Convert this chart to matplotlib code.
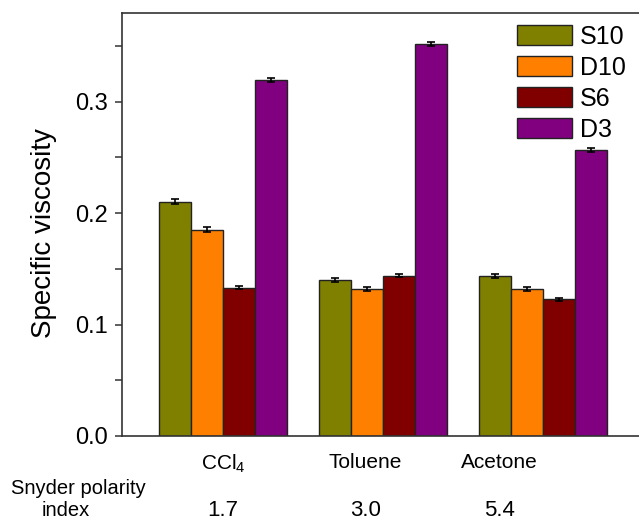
import matplotlib
matplotlib.use("Agg")
import matplotlib.pyplot as plt
import matplotlib.transforms as mtransforms
from matplotlib.ticker import MultipleLocator
import numpy as np

plt.rcParams['font.family'] = ['Liberation Sans', 'DejaVu Sans']
plt.rcParams['mathtext.fontset'] = 'custom'
plt.rcParams['mathtext.rm'] = 'Liberation Sans'
plt.rcParams['mathtext.it'] = 'Liberation Sans'

# 数据
solvents = [r'CCl$_\mathregular{4}$', 'Toluene', 'Acetone']
polarity = ['1.7', '3.0', '5.4']
series = ['S10', 'D10', 'S6', 'D3']
colors = ['#808000', '#FF8000', '#800000', '#800080']
s10 = [0.2103, 0.1400, 0.1434]
d10 = [0.1852, 0.1317, 0.1322]
s6 = [0.1331, 0.1440, 0.1227]
d3 = [0.3196, 0.3519, 0.2567]
s10_err = [0.0020, 0.0018, 0.0018]
d10_err = [0.0020, 0.0018, 0.0016]
s6_err = [0.0012, 0.0015, 0.0012]
d3_err = [0.0020, 0.0022, 0.0018]

values = [s10, d10, s6, d3]
errors = [s10_err, d10_err, s6_err, d3_err]

# 文字标签在原图中并不完全位于组中心
label_pos = [0.0, 0.89, 1.73]

fig = plt.figure(figsize=(6.39, 5.19), dpi=100)
ax = fig.add_axes([122 / 639, 83 / 519, (645 - 122) / 639, (436 - 13) / 519])

x = np.arange(len(solvents))
width = 0.2
for i, (name, vals, errs, c) in enumerate(zip(series, values, errors, colors)):
    pos = x + (i - 1.5) * width
    ax.bar(pos, vals, width, color=c, edgecolor='#222222', linewidth=1.0, label=name)
    ax.errorbar(pos, vals, yerr=errs, fmt='none', ecolor='black',
                elinewidth=1.2, capsize=3, capthick=1.2)

ax.set_xlim(-0.63125, 2.6375)
ax.set_ylim(0, 0.3797)
ax.yaxis.set_major_locator(MultipleLocator(0.1))
ax.yaxis.set_minor_locator(MultipleLocator(0.05))
ax.set_yticks([0.0, 0.1, 0.2, 0.3])
ax.set_yticklabels(['0.0', '0.1', '0.2', '0.3'])
ax.tick_params(axis='y', which='both', direction='out', length=5, width=1.1,
               labelsize=17, pad=5.5, color='#333333')
ax.set_xticks(label_pos)
ax.set_xticklabels(solvents, fontsize=15)
ax.tick_params(axis='x', length=0, pad=12)

ax.spines['right'].set_visible(False)
for s in ['left', 'bottom', 'top']:
    ax.spines[s].set_linewidth(1.2)
    ax.spines[s].set_color('#333333')

ax.set_ylabel('Specific viscosity', fontsize=20)
ax.yaxis.set_label_coords(57 / 639, 1 - 233 / 519, transform=fig.transFigure)

# 图例
ax.legend(loc='upper left', bbox_to_anchor=(517 / 639, 1 - 25 / 519),
          bbox_transform=fig.transFigure, frameon=False, fontsize=18,
          handlelength=2.2, handleheight=0.85, handletextpad=0.3,
          labelspacing=0.28, borderpad=0, borderaxespad=0)

# 底部极性指数
trans = mtransforms.blended_transform_factory(ax.transData, fig.transFigure)
for xi, p in zip(label_pos, polarity):
    ax.text(xi, 1 - 510 / 519, p, transform=trans, ha='center', va='center', fontsize=16)
fig.text(78 / 639, 1 - 489 / 519, 'Snyder polarity', ha='center', va='center', fontsize=14.5)
fig.text(66 / 639, 1 - 510 / 519, 'index', ha='center', va='center', fontsize=14.5)

fig.savefig('out.png', dpi=100)
